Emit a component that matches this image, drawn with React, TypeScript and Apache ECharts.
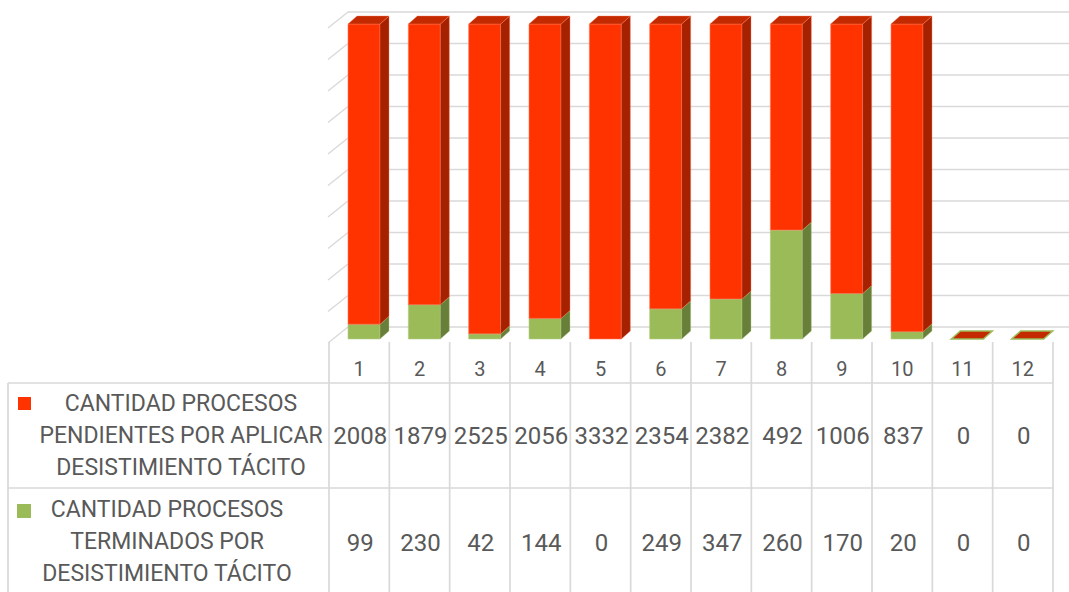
import React, { useEffect, useRef } from "react";
import * as echarts from "echarts";

const categories = ["1", "2", "3", "4", "5", "6", "7", "8", "9", "10", "11", "12"];
const pendientes = [2008, 1879, 2525, 2056, 3332, 2354, 2382, 492, 1006, 837, 0, 0];
const terminados = [99, 230, 42, 144, 0, 249, 347, 260, 170, 20, 0, 0];
const gridTicks = [0, 0.1, 0.2, 0.3, 0.4, 0.5, 0.6, 0.7, 0.8, 0.9, 1];
const labelPendientes = ["CANTIDAD PROCESOS", "PENDIENTES POR APLICAR", "DESISTIMIENTO TÁCITO"];
const labelTerminados = ["CANTIDAD PROCESOS", "TERMINADOS POR", "DESISTIMIENTO TÁCITO"];

const FONT = "Roboto, 'Noto Sans', sans-serif";
const TEXT = "#595959";
const LINE = "#D9D9D9";

const RED = { front: "#FF3300", side: "#A52100", top: "#C42A00", edge: "#FF7A5C" };
const GREEN = { front: "#9BBB59", side: "#687F3A", top: "#849F4B", edge: "#B5CD86" };

const BAR_OFF = 19;
const BAR_W = 32;
const DX = 9;
const DY = 8;

function boxRender(colors: any, isTopSeries: boolean) {
  return (params: any, api: any) => {
    const i = api.value(0);
    const lo = api.value(1);
    const hi = api.value(2);
    const total = api.value(3);
    const p0 = api.coord([i, lo]);
    const p1 = api.coord([i, hi]);
    const colW = api.size([1, 0])[0];
    const L = p0[0] - colW / 2 + BAR_OFF;
    const R = L + BAR_W;
    const yb = p0[1];
    const yt = p1[1];
    const children: any[] = [];
    if (total === 0) {
      if (!isTopSeries) return { type: "group", children: [] };
      children.push({
        type: "polygon",
        shape: { points: [[L, yb], [L + DX, yb - DY], [R + DX, yb - DY], [R, yb]] },
        style: { fill: RED.top, stroke: GREEN.front, lineWidth: 1.5 },
      });
      return { type: "group", children };
    }
    if (hi - lo <= 0) return { type: "group", children: [] };
    children.push({
      type: "rect",
      shape: { x: L, y: yt, width: BAR_W, height: yb - yt },
      style: { fill: colors.front, stroke: colors.edge, lineWidth: 0.6 },
    });
    children.push({
      type: "polygon",
      shape: { points: [[R, yb], [R + DX, yb - DY], [R + DX, yt - DY], [R, yt]] },
      style: { fill: colors.side, stroke: colors.edge, lineWidth: 0.4 },
    });
    children.push({
      type: "polygon",
      shape: { points: [[L, yt], [L + DX, yt - DY], [R + DX, yt - DY], [R, yt]] },
      style: { fill: colors.top, stroke: colors.edge, lineWidth: 0.4 },
    });
    return { type: "group", children };
  };
}

export default function App() {
  const ref = useRef<HTMLDivElement>(null);

  useEffect(() => {
    if (!ref.current) return;
    const chart = echarts.init(ref.current, null, { renderer: "svg" });

    const greenData = categories.map((c, i) => {
      const t = pendientes[i] + terminados[i];
      const s = t === 0 ? 0 : terminados[i] / t;
      return [i, 0, s, t];
    });
    const redData = categories.map((c, i) => {
      const t = pendientes[i] + terminados[i];
      const s = t === 0 ? 0 : terminados[i] / t;
      return [i, s, t === 0 ? 0 : 1, t];
    });
    const tableData = categories.map((c, i) => [i, pendientes[i], terminados[i]]);

    const textStyle = (text: string, x: number, y: number, size: number) => ({
      type: "text",
      x,
      y,
      style: {
        text,
        fill: TEXT,
        fontSize: size,
        fontFamily: FONT,
        align: "center",
        verticalAlign: "middle",
      },
    });

    const graphics: any[] = [
      { type: "line", shape: { x1: 8, y1: 383, x2: 1053, y2: 383 }, style: { stroke: LINE, lineWidth: 1.7 } },
      { type: "line", shape: { x1: 8, y1: 488, x2: 1053, y2: 488 }, style: { stroke: LINE, lineWidth: 1.7 } },
      { type: "line", shape: { x1: 8, y1: 383, x2: 8, y2: 592 }, style: { stroke: LINE, lineWidth: 1.7 } },
      { type: "rect", shape: { x: 18, y: 397, width: 13, height: 13 }, style: { fill: RED.front } },
      { type: "rect", shape: { x: 17, y: 504, width: 14, height: 14 }, style: { fill: GREEN.front } },
    ];
    labelPendientes.forEach((t, k) => graphics.push(textStyle(t, 181, 403 + k * 32, 23)));
    labelTerminados.forEach((t, k) => graphics.push(textStyle(t, 167, 509 + k * 32, 23)));

    chart.setOption({
      animation: false,
      grid: { left: 329, right: 16, top: 24, bottom: 253 },
      xAxis: {
        type: "category",
        data: categories,
        axisLine: { show: false },
        axisTick: { show: false },
        axisLabel: { color: TEXT, fontSize: 20, fontFamily: FONT, margin: 20 },
        splitLine: { show: false },
      },
      yAxis: { type: "value", min: 0, max: 1, show: false },
      graphic: graphics,
      series: [
        {
          type: "custom",
          name: "walls",
          silent: true,
          data: gridTicks.map((v) => [0, v]),
          renderItem: (params: any, api: any) => {
            const v = api.value(1);
            const c = api.coord([0, v]);
            const colW = api.size([1, 0])[0];
            const left = c[0] - colW / 2;
            const yb = c[1] - 12;
            return {
              type: "group",
              children: [
                { type: "line", shape: { x1: left - 1, y1: yb + 16, x2: left + 19, y2: yb }, style: { stroke: LINE, lineWidth: 1.5 } },
                { type: "line", shape: { x1: left + 19, y1: yb, x2: 1069, y2: yb }, style: { stroke: LINE, lineWidth: 1.5 } },
              ],
            };
          },
          z: 1,
        },
        {
          type: "custom",
          name: "CANTIDAD PROCESOS TERMINADOS POR DESISTIMIENTO TÁCITO",
          data: greenData,
          renderItem: boxRender(GREEN, false),
          z: 2,
        },
        {
          type: "custom",
          name: "CANTIDAD PROCESOS PENDIENTES POR APLICAR DESISTIMIENTO TÁCITO",
          data: redData,
          renderItem: boxRender(RED, true),
          z: 3,
        },
        {
          type: "custom",
          name: "table",
          data: tableData,
          renderItem: (params: any, api: any) => {
            const i = api.value(0);
            const c = api.coord([i, 0]);
            const colW = api.size([1, 0])[0];
            const left = c[0] - colW / 2;
            const children: any[] = [
              { type: "line", shape: { x1: left, y1: 342, x2: left, y2: 592 }, style: { stroke: LINE, lineWidth: 1.7 } },
              textStyle(String(api.value(1)), c[0] + 1, 436, 24),
              textStyle(String(api.value(2)), c[0] + 1, 543, 24),
            ];
            if (i === categories.length - 1) {
              children.push({ type: "line", shape: { x1: left + colW, y1: 342, x2: left + colW, y2: 592 }, style: { stroke: LINE, lineWidth: 1.7 } });
            }
            return { type: "group", children };
          },
          z: 4,
        },
      ],
    });

    return () => chart.dispose();
  }, []);

  return (
    <div
      ref={ref}
      style={{ position: "fixed", left: 0, top: 0, width: 1069, height: 592, background: "#fff" }}
    />
  );
}
